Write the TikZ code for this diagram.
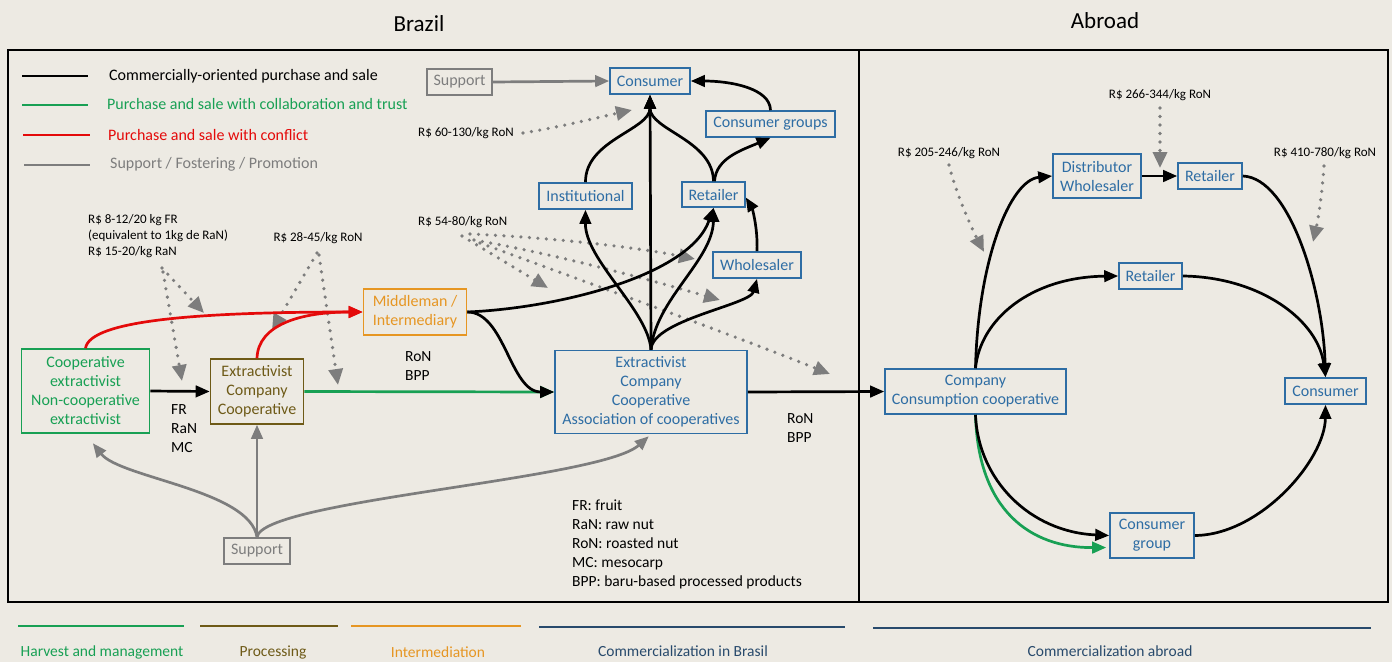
\documentclass[tikz,border=0pt]{standalone}
\usepackage{fontspec}
\setmainfont{Carlito}
\usetikzlibrary{arrows.meta}

\definecolor{paper}{RGB}{237,234,227}
\definecolor{cblue}{RGB}{46,109,164}
\definecolor{cnavy}{RGB}{40,74,108}
\definecolor{cgreen}{RGB}{24,160,84}
\definecolor{cbrown}{RGB}{110,90,23}
\definecolor{corange}{RGB}{230,150,35}
\definecolor{cred}{RGB}{228,10,10}
\definecolor{cgray}{RGB}{125,125,125}

\tikzset{
  box/.style={draw, line width=1.6pt, inner sep=0pt, align=center,
    font=\fontsize{16}{19}\selectfont},
  bluebox/.style={box, draw=cblue, text=cblue},
  greenbox/.style={box, draw=cgreen, text=cgreen},
  brownbox/.style={box, draw=cbrown, text=cbrown},
  orangebox/.style={box, draw=corange, text=corange},
  graybox/.style={box, draw=cgray, text=cgray},
  price/.style={inner sep=0pt, font=\fontsize{13}{16}\selectfont, align=left},
  lab/.style={inner sep=0pt, font=\fontsize{15.5}{19}\selectfont, align=left},
  legtext/.style={inner sep=0pt, anchor=west, font=\fontsize{16}{19}\selectfont},
  stagetext/.style={inner sep=0pt, font=\fontsize{15.5}{19}\selectfont},
  flow/.style={line width=2.7pt, -{Triangle[length=14pt,width=11.5pt]}},
  blackflow/.style={flow, draw=black},
  redflow/.style={flow, draw=cred},
  greenflow/.style={flow, draw=cgreen},
  grayflow/.style={flow, draw=cgray},
  pricearrow/.style={draw=cgray, line width=3.6pt, line cap=round,
    dash pattern=on 0pt off 8.5pt, -{Triangle[length=16pt,width=14pt]}},
  legline/.style={line width=2.4pt},
  stageline/.style={line width=2pt},
}

\begin{document}
\begin{tikzpicture}[x=1pt,y=-1pt]
% canvas
\fill[paper] (0,0) rectangle (1392,662);
\useasboundingbox (0,0) rectangle (1392,662);

% titles and frames
\node[inner sep=0pt, font=\fontsize{23}{26}\selectfont] (tbr) at (419,24) {Brazil};
\node[inner sep=0pt, font=\fontsize{23}{26}\selectfont] (tab) at (1105,21) {Abroad};
\draw[line width=2pt] (8,50) rectangle (1388,602);
\draw[line width=2pt] (859,50) -- (859,602);

% legend
\draw[legline, black] (22,76) -- (88,76);
\draw[legline, cgreen] (22,105) -- (88,105);
\draw[legline, cred] (23,135) -- (90,135);
\draw[legline, cgray] (24,165) -- (90,165);
\node[legtext] (l1) at (109,76) {Commercially-oriented purchase and sale};
\node[legtext, text=cgreen] (l2) at (107,104) {Purchase and sale with collaboration and trust};
\node[legtext, text=cred] (l3) at (108,135) {Purchase and sale with conflict};
\node[legtext, text=cgray] (l4) at (110,164) {Support / Fostering / Promotion};

% ---------- Brazil ----------
\node[graybox, minimum width=65pt, minimum height=26pt] (suptop) at (459.5,82) {Support};
\node[bluebox, minimum width=80pt, minimum height=26pt] (cons) at (650,81) {Consumer};
\node[bluebox, minimum width=129pt, minimum height=26pt] (cgrp) at (770.5,124) {Consumer groups};
\node[bluebox, minimum width=93pt, minimum height=26pt] (inst) at (585.5,196) {Institutional};
\node[bluebox, minimum width=63pt, minimum height=25pt] (ret) at (713.5,194.5) {Retailer};
\node[bluebox, minimum width=88pt, minimum height=26pt] (whole) at (757,265) {Wholesaler};
\node[orangebox, minimum width=103pt, minimum height=46pt] (mid) at (415,312) {Middleman /\\Intermediary};
\node[bluebox, minimum width=192pt, minimum height=83pt] (ext) at (651,392)
  {Extractivist\\Company\\Cooperative\\Association of cooperatives};
\node[greenbox, minimum width=128pt, minimum height=84pt] (coop) at (85.5,391)
  {Cooperative\\extractivist\\Non-cooperative\\extractivist};
\node[brownbox, minimum width=93pt, minimum height=65pt] (proc) at (257,391.5)
  {Extractivist\\Company\\Cooperative};
\node[graybox, minimum width=66pt, minimum height=26pt] (supbot) at (257,551) {Support};

% product labels
\node[lab, anchor=west] (prod1) at (171,429) {FR\\RaN\\MC};
\node[lab, anchor=west] (prod2) at (405,366.5) {RoN\\BPP};
\node[lab, anchor=west] (prod3) at (787,428.5) {RoN\\BPP};
\node[lab, anchor=west] (abbr) at (572,544)
  {FR: fruit\\RaN: raw nut\\RoN: roasted nut\\MC: mesocarp\\BPP: baru-based processed products};

% price labels
\node[price, anchor=west] (p1) at (88,236)
  {R\$ 8-12/20 kg FR\\(equivalent to 1kg de RaN)\\R\$ 15-20/kg RaN};
\node[price] (p2) at (318,238) {R\$ 28-45/kg RoN};
\node[price, anchor=west] (p3) at (418,222) {R\$ 54-80/kg RoN};
\node[price, anchor=west] (p4) at (418,133) {R\$ 60-130/kg RoN};

% ---------- Abroad ----------
\node[bluebox, minimum width=88pt, minimum height=44pt] (dist) at (1097,176) {Distributor\\Wholesaler};
\node[bluebox, minimum width=64pt, minimum height=26pt] (retA) at (1210,176) {Retailer};
\node[bluebox, minimum width=63pt, minimum height=26pt] (retB) at (1150.5,276) {Retailer};
\node[bluebox, minimum width=181pt, minimum height=45pt] (comp) at (975.5,391.5)
  {Company\\Consumption cooperative};
\node[bluebox, minimum width=81pt, minimum height=26pt] (consA) at (1325.5,391) {Consumer};
\node[bluebox, minimum width=84pt, minimum height=45pt] (cgrpA) at (1152,535.5) {Consumer\\group};

\node[price] (p5) at (949,153) {R\$ 205-246/kg RoN};
\node[price] (p6) at (1160,95) {R\$ 266-344/kg RoN};
\node[price] (p7) at (1325,153) {R\$ 410-780/kg RoN};

% ---------- price pointers ----------
\coordinate (a1s) at (162,268); \coordinate (a1e) at (204,313);
\coordinate (a2s) at (163,272); \coordinate (a2e) at (182,381);
\coordinate (a3s) at (317,253); \coordinate (a3e) at (272,330);
\coordinate (a4s) at (319,255); \coordinate (a4e) at (338,385);
\coordinate (a5s) at (462,236); \coordinate (a5e) at (548,288);
\coordinate (a6s) at (470,234); \coordinate (a6e) at (695,259);
\coordinate (a7s) at (474,240); \coordinate (a7e) at (720,300);
\coordinate (a8s) at (480,243); \coordinate (a8e) at (830,374);
\coordinate (a9s) at (523,133); \coordinate (a9e) at (632,110);
\coordinate (b1s) at (949,165); \coordinate (b1e) at (984,252);
\coordinate (b2s) at (1160,108); \coordinate (b2e) at (1160,168);
\coordinate (b3s) at (1324,166); \coordinate (b3e) at (1313,242);
\draw[pricearrow] (a1s) -- (a1e);
\draw[pricearrow] (a2s) -- (a2e);
\draw[pricearrow] (a3s) -- (a3e);
\draw[pricearrow] (a4s) -- (a4e);
\draw[pricearrow] (a5s) -- (a5e);
\draw[pricearrow] (a6s) .. controls (560,238) and (640,248) .. (a6e);
\draw[pricearrow] (a7s) .. controls (560,255) and (650,280) .. (a7e);
\draw[pricearrow] (a8s) .. controls (580,280) and (720,330) .. (a8e);
\draw[pricearrow] (a9s) .. controls (560,127) and (600,117) .. (a9e);
\draw[pricearrow] (b1s) .. controls (955,190) and (970,225) .. (b1e);
\draw[pricearrow] (b2s) -- (b2e);
\draw[pricearrow] (b3s) .. controls (1322,195) and (1318,220) .. (b3e);

% ---------- flows in Brazil ----------
\draw[blackflow] (coop.east) -- (proc.west);
\draw[redflow] (coop.north) .. controls (90,320) and (200,312) .. (mid.west);
\draw[redflow] (proc.north) .. controls (258,325) and (300,312) .. (mid.west);
\draw[greenflow] (proc.east) -- (ext.west);
\draw[blackflow] (mid.east) .. controls (505,312) and (510,392) .. (ext.west);
\draw[blackflow] (mid.east) .. controls (560,308) and (690,275) .. (ret.south);
\draw[blackflow] (ext.north) .. controls (648,310) and (585,260) .. (inst.south);
\draw[blackflow] (ext.north) -- (cons.south);
\draw[blackflow] (ext.north) .. controls (655,300) and (713,260) .. (ret.south);
\draw[blackflow] (ext.north) .. controls (652,320) and (750,305) .. (whole.south);
\draw[blackflow] (inst.north) .. controls (585,140) and (650,130) .. (cons.south);
\draw[blackflow] (ret.north) .. controls (713,140) and (650,130) .. (cons.south);
\draw[blackflow] ([xshift=1pt]ret.north) .. controls (716,158) and (742,150) .. (cgrp.south);
\draw[blackflow] (cgrp.north) .. controls (770,88) and (730,81) .. (cons.east);
\draw[blackflow] (whole.north) .. controls (758,225) and (751,206) .. ([yshift=-3pt]ret.east);
\draw[grayflow] (suptop.east) -- (cons.west);
\draw[blackflow] (ext.east) -- (comp.west);

% support below
\draw[grayflow, shorten >=12pt] (supbot.north) .. controls (250,490) and (120,478) .. (coop.south);
\draw[grayflow] (supbot.north) -- (proc.south);
\draw[grayflow, shorten >=3pt] (supbot.north) .. controls (262,500) and (600,480) .. (ext.south);

% ---------- flows abroad ----------
\draw[blackflow] (comp.north) .. controls (978,260) and (1010,180) .. (dist.west);
\draw[blackflow] (comp.north) .. controls (980,320) and (1030,277) .. (retB.west);
\draw[blackflow] (dist.east) -- (retA.west);
\draw[blackflow] (retA.east) .. controls (1290,178) and (1323,290) .. (consA.north);
\draw[blackflow] (retB.east) .. controls (1260,277) and (1318,320) .. (consA.north);
\draw[greenflow, shorten >=3pt] (comp.south) .. controls (978,510) and (1030,548) .. ([yshift=-12pt]cgrpA.west);
\draw[blackflow] (comp.south) .. controls (978,480) and (1030,532) .. (cgrpA.west);
\draw[blackflow] (cgrpA.east) .. controls (1260,535) and (1325,460) .. (consA.south);

% ---------- value-chain stages ----------
\draw[stageline, cgreen] (18,626) -- (184,626);
\draw[stageline, cbrown] (200,626) -- (338,626);
\draw[stageline, corange] (351,626) -- (521,626);
\draw[stageline, cnavy] (539,627) -- (845,627);
\draw[stageline, cnavy] (873,628) -- (1371,628);
\node[stagetext, text=cgreen] (s1) at (102,652) {Harvest and management};
\node[stagetext, text=cbrown] (s2) at (273,652) {Processing};
\node[stagetext, text=corange] (s3) at (438,652) {Intermediation};
\node[stagetext, text=cnavy] (s4) at (683,651) {Commercialization in Brasil};
\node[stagetext, text=cnavy] (s5) at (1110,651) {Commercialization abroad};
\end{tikzpicture}
\end{document}
